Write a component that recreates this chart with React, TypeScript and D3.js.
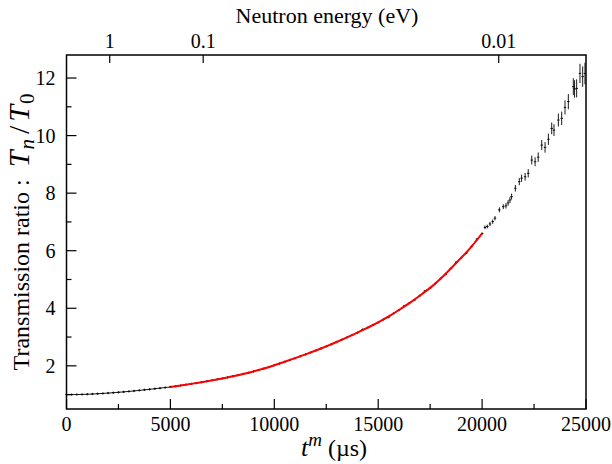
import React, { useEffect, useRef } from 'react';
import * as d3 from 'd3';

const WIDTH = 612;
const HEIGHT = 464;

const PLOT_LEFT = 66.5;
const PLOT_RIGHT = 586;
const PLOT_TOP = 55;
const PLOT_BOTTOM = 409;

const FONT = 'Liberation Serif';

// dense measurement, one value every 250 us from 0 to 20000 us
const DENSE_STEP = 250;
const denseRatio = [
  1.000, 1.001, 1.003, 1.007, 1.013, 1.021, 1.030, 1.041, 1.053, 1.066,
  1.080, 1.095, 1.111, 1.128, 1.146, 1.165, 1.184, 1.204, 1.224, 1.245,
  1.267, 1.292, 1.318, 1.345, 1.373, 1.402, 1.432, 1.463, 1.495, 1.528,
  1.562, 1.599, 1.637, 1.677, 1.718, 1.761, 1.806, 1.853, 1.905, 1.960,
  2.020, 2.080, 2.141, 2.203, 2.266, 2.331, 2.397, 2.465, 2.534, 2.605,
  2.677, 2.752, 2.829, 2.907, 2.987, 3.069, 3.153, 3.260, 3.327, 3.417,
  3.509, 3.610, 3.690, 3.825, 3.940, 4.080, 4.180, 4.290, 4.436, 4.600,
  4.708, 4.863, 5.028, 5.180, 5.383, 5.600, 5.758, 5.920, 6.153, 6.400,
  6.598,
];

// sparse tail beyond the fit range
const tailTime = [
  20140, 20250, 20380, 20510, 20620, 20830, 21020, 21150, 21250, 21340,
  21420, 21600, 21790, 21900, 22070, 22220, 22390, 22550, 22700, 22870,
  23030, 23190, 23350, 23460, 23670, 23830, 23990, 24150, 24390, 24450,
  24550, 24710, 24840, 24950,
];
const tailRatio = [
  6.81, 6.84, 6.93, 7.01, 7.13, 7.42, 7.53, 7.56, 7.66, 7.76,
  7.88, 8.17, 8.40, 8.52, 8.57, 8.69, 9.15, 9.09, 9.25, 9.67,
  9.59, 9.87, 10.25, 10.19, 10.54, 10.60, 10.98, 11.18, 11.70, 11.62,
  11.64, 12.16, 12.05, 12.16,
];
const tailErr = [
  0.04, 0.04, 0.05, 0.05, 0.05, 0.06, 0.06, 0.07, 0.07, 0.08,
  0.08, 0.09, 0.10, 0.10, 0.11, 0.12, 0.13, 0.13, 0.14, 0.15,
  0.16, 0.17, 0.18, 0.18, 0.20, 0.21, 0.22, 0.24, 0.27, 0.28,
  0.29, 0.31, 0.33, 0.35,
];
const TIME_ERR = 60;

// fitted curve, every 500 us from 5000 to 20000 us
const FIT_START = 5000;
const FIT_STEP = 500;
const fitRatio = [
  1.267, 1.318, 1.373, 1.432, 1.495, 1.562, 1.637, 1.718, 1.806, 1.905,
  2.020, 2.141, 2.266, 2.397, 2.534, 2.677, 2.829, 2.987, 3.153, 3.327,
  3.509, 3.715, 3.940, 4.180, 4.436, 4.708, 5.028, 5.383, 5.758, 6.153,
  6.598,
];

const xMajor = [0, 5000, 10000, 15000, 20000, 25000];
const xMinor = [2500, 7500, 12500, 17500, 22500];
const yMajor = [2, 4, 6, 8, 10, 12];
const yMinor = [1, 3, 5, 7, 9, 11];
const energyTicks = [1, 0.1, 0.01];
const energyLabels = ['1', '0.1', '0.01'];
const FLIGHT_CONST = 2080; // t = C / sqrt(E)

type Pt = { t: number; v: number };

export default function App() {
  const ref = useRef<SVGSVGElement>(null);

  useEffect(() => {
    const svg = d3.select(ref.current);
    svg.selectAll('*').remove();

    const x = d3.scaleLinear().domain([0, 25000]).range([PLOT_LEFT, PLOT_RIGHT]);
    const y = d3.scaleLinear().domain([0.5, 12.8]).range([PLOT_BOTTOM, PLOT_TOP]);

    const dense = denseRatio.map((v, i) => ({ t: i * DENSE_STEP, v, e: 0.015 }));
    const tail = tailTime.map((t, i) => ({ t, v: tailRatio[i], e: tailErr[i] }));
    const points = dense.concat(tail);
    const fit = fitRatio.map((v, i) => ({ t: FIT_START + i * FIT_STEP, v }));

    const line = d3.line<Pt>().x((d) => x(d.t)).y((d) => y(d.v));

    // dense data are so close they read as a thin line
    svg.append('path')
      .datum(dense)
      .attr('fill', 'none')
      .attr('stroke', '#000')
      .attr('stroke-width', 0.9)
      .attr('d', line);

    // data points as small crosses with error bars
    const g = svg.append('g').attr('stroke', '#000').attr('stroke-width', 0.9);
    g.selectAll('line.ey')
      .data(points)
      .enter()
      .append('line')
      .attr('x1', (d) => x(d.t))
      .attr('x2', (d) => x(d.t))
      .attr('y1', (d) => y(d.v - d.e) + 0.7)
      .attr('y2', (d) => y(d.v + d.e) - 0.7);
    g.selectAll('line.ex')
      .data(points)
      .enter()
      .append('line')
      .attr('x1', (d) => x(d.t - TIME_ERR))
      .attr('x2', (d) => x(d.t + TIME_ERR))
      .attr('y1', (d) => y(d.v))
      .attr('y2', (d) => y(d.v));

    // fit
    svg.append('path')
      .datum(fit)
      .attr('fill', 'none')
      .attr('stroke', '#ff0000')
      .attr('stroke-width', 2)
      .attr('d', line.curve(d3.curveMonotoneX));

    // frame
    svg.append('rect')
      .attr('x', PLOT_LEFT)
      .attr('y', PLOT_TOP)
      .attr('width', PLOT_RIGHT - PLOT_LEFT)
      .attr('height', PLOT_BOTTOM - PLOT_TOP)
      .attr('fill', 'none')
      .attr('stroke', '#000')
      .attr('stroke-width', 1.5);

    const ticks = svg.append('g').attr('stroke', '#000').attr('stroke-width', 1.2);
    ticks.selectAll('line.xM').data(xMajor).enter().append('line')
      .attr('x1', (d) => x(d)).attr('x2', (d) => x(d))
      .attr('y1', PLOT_BOTTOM).attr('y2', PLOT_BOTTOM - 10);
    ticks.selectAll('line.xm').data(xMinor).enter().append('line')
      .attr('x1', (d) => x(d)).attr('x2', (d) => x(d))
      .attr('y1', PLOT_BOTTOM).attr('y2', PLOT_BOTTOM - 5);
    ticks.selectAll('line.yM').data(yMajor).enter().append('line')
      .attr('x1', PLOT_LEFT).attr('x2', PLOT_LEFT + 10)
      .attr('y1', (d) => y(d)).attr('y2', (d) => y(d));
    ticks.selectAll('line.ym').data(yMinor).enter().append('line')
      .attr('x1', PLOT_LEFT).attr('x2', PLOT_LEFT + 5)
      .attr('y1', (d) => y(d)).attr('y2', (d) => y(d));
    ticks.selectAll('line.e').data(energyTicks).enter().append('line')
      .attr('x1', (d) => x(FLIGHT_CONST / Math.sqrt(d))).attr('x2', (d) => x(FLIGHT_CONST / Math.sqrt(d)))
      .attr('y1', PLOT_TOP).attr('y2', PLOT_TOP + 8);

    const labels = svg.append('g').attr('font-family', FONT).attr('font-size', 20).attr('fill', '#000');
    labels.selectAll('text.x').data(xMajor).enter().append('text')
      .attr('x', (d) => x(d)).attr('y', PLOT_BOTTOM + 22)
      .attr('text-anchor', 'middle').text((d) => String(d));
    labels.selectAll('text.y').data(yMajor).enter().append('text')
      .attr('x', PLOT_LEFT - 11).attr('y', (d) => y(d) + 7)
      .attr('text-anchor', 'end').text((d) => String(d));
    labels.selectAll('text.e').data(energyTicks).enter().append('text')
      .attr('x', (d) => x(FLIGHT_CONST / Math.sqrt(d))).attr('y', 48)
      .attr('text-anchor', 'middle').text((d, i) => energyLabels[i]);

    labels.append('text')
      .attr('x', 327).attr('y', 23).attr('text-anchor', 'middle')
      .attr('font-size', 22)
      .text('Neutron energy (eV)');

    const xl = labels.append('text').attr('x', 334).attr('y', 456).attr('text-anchor', 'middle').attr('font-size', 24);
    xl.append('tspan').attr('font-style', 'italic').attr('font-size', 26).text('t');
    xl.append('tspan').attr('font-style', 'italic').attr('font-size', 19).attr('dy', -10).text('m');
    xl.append('tspan').attr('dy', 10).text(' (\u00b5s)');

    const yl = labels.append('text')
      .attr('transform', `translate(29, 232) rotate(-90)`)
      .attr('text-anchor', 'middle')
      .attr('font-size', 24);
    yl.append('tspan').text('Transmission ratio :');
    yl.append('tspan').attr('font-style', 'italic').attr('font-size', 30).attr('dx', 12).text('T');
    yl.append('tspan').attr('font-style', 'italic').attr('font-size', 21).attr('dy', 5).attr('dx', 1).text('n');
    yl.append('tspan').attr('font-size', 30).attr('dy', -5).attr('dx', 5).text('/');
    yl.append('tspan').attr('font-style', 'italic').attr('font-size', 30).attr('dx', 4).text('T');
    yl.append('tspan').attr('font-size', 21).attr('dy', 5).attr('dx', 1).text('0');
  }, []);

  return (
    <div style={{ position: 'absolute', left: 0, top: 0 }}>
      <svg ref={ref} width={WIDTH} height={HEIGHT} style={{ display: 'block', background: '#fff' }} />
    </div>
  );
}
